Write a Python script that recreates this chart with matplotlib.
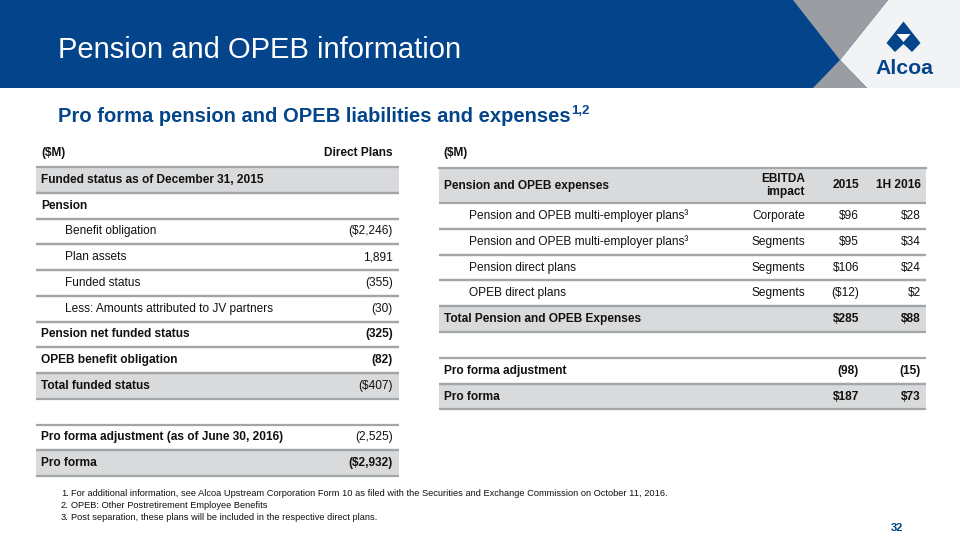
import matplotlib.pyplot as plt
from matplotlib.patches import Rectangle, Polygon

plt.rcParams['font.family'] = ['Liberation Sans', 'DejaVu Sans']

# left table: funded status
left_labels = ["Funded status as of December 31, 2015", "Pension", "Benefit obligation",
               "Plan assets", "Funded status", "Less: Amounts attributed to JV partners",
               "Pension net funded status", "OPEB benefit obligation", "Total funded status",
               "Pro forma adjustment (as of June 30, 2016)", "Pro forma"]
left_values = ["", "", "($2,246)", "1,891", "(355)", "(30)", "(325)", "(82)", "($407)",
               "(2,525)", "($2,932)"]

# right table: expenses
right_labels = ["Pension and OPEB multi-employer plans³", "Pension and OPEB multi-employer plans³",
                "Pension direct plans", "OPEB direct plans", "Total Pension and OPEB Expenses",
                "Pro forma adjustment", "Pro forma"]
right_impact = ["Corporate", "Segments", "Segments", "Segments", "", "", ""]
right_2015 = ["$96", "$95", "$106", "($12)", "$285", "(98)", "$187"]
right_1h2016 = ["$28", "$34", "$24", "$2", "$88", "(15)", "$73"]

footnotes = ["For additional information, see Alcoa Upstream Corporation Form 10 as filed with the Securities and Exchange Commission on October 11, 2016.",
             "OPEB: Other Postretirement Employee Benefits",
             "Post separation, these plans will be included in the respective direct plans."]

# row layout / styles
left_slot = [0, 1, 2, 3, 4, 5, 6, 7, 8, 10, 11]
left_indent = [0, 0, 1, 1, 1, 1, 0, 0, 0, 0, 0]
left_bold = [1, 1, 0, 0, 0, 0, 1, 1, 1, 1, 1]
left_vbold = [0, 0, 0, 0, 0, 0, 1, 1, 0, 0, 1]
left_shade = [1, 0, 0, 0, 0, 0, 0, 0, 1, 0, 1]

right_slot = [0, 1, 2, 3, 4, 6, 7]
right_indent = [1, 1, 1, 1, 0, 0, 0]
right_bold = [0, 0, 0, 0, 1, 1, 1]
right_shade = [0, 0, 0, 0, 1, 0, 1]

BLUE = '#03448a'
GREY = '#9a9ea2'
LIGHT = '#f2f3f5'
SHADE = '#d9dadc'
LINE = '#a3a6a9'
TXT = '#111111'
FS = 8.6

fig = plt.figure(figsize=(9.6, 5.4), dpi=100)
ax = fig.add_axes([0, 0, 1, 1])
ax.set_xlim(0, 960)
ax.set_ylim(540, 0)
ax.axis('off')

# header band
ax.add_patch(Rectangle((0, 0), 960, 88, color=BLUE, lw=0))
ax.add_patch(Polygon([(888, 0), (960, 0), (960, 88), (867, 88), (840, 60)], color=LIGHT, lw=0))
ax.add_patch(Polygon([(793, 0), (888, 0), (840, 60)], color=GREY, lw=0))
ax.add_patch(Polygon([(840, 60), (867, 88), (813, 88)], color=GREY, lw=0))

# logo
ax.add_patch(Polygon([(903.5, 21.5), (920.5, 43), (912, 52), (903.5, 44), (895, 52), (886.5, 43)],
                     color=BLUE, lw=0))
ax.add_patch(Polygon([(896.5, 34), (910.5, 34), (903.5, 42)], color='white', lw=0))
ax.text(904, 68, "Alcoa", color=BLUE, fontsize=15.3, fontweight='bold', ha='center', va='center')

ax.text(58, 50, "Pension and OPEB information", color='white', fontsize=21, ha='left', va='center')

sub = ax.text(58, 117, "Pro forma pension and OPEB liabilities and expenses", color=BLUE,
              fontsize=14.5, fontweight='bold', ha='left', va='center')
fig.canvas.draw()
bb = sub.get_window_extent().transformed(ax.transData.inverted())
ax.text(max(bb.x0, bb.x1) + 1, 111, "1,2", color=BLUE, fontsize=9.5, fontweight='bold',
        ha='left', va='center')

# left table
L0, L1, LH, LT = 36, 399, 25.75, 167
ax.text(41, 153, "($M)", fontsize=FS, fontweight='bold', color=TXT, va='center')
ax.text(393, 153, "Direct Plans", fontsize=FS, fontweight='bold', color=TXT, va='center', ha='right')
for i, lab in enumerate(left_labels):
    top = LT + left_slot[i] * LH
    if left_shade[i]:
        ax.add_patch(Rectangle((L0, top), L1 - L0, LH, color=SHADE, lw=0))
    for y in (top, top + LH):
        ax.plot([L0, L1], [y, y], color=LINE, lw=1.6, solid_capstyle='butt')
    cy = top + LH / 2
    ax.text(65 if left_indent[i] else 41, cy, lab, fontsize=FS, color=TXT,
            fontweight='bold' if left_bold[i] else 'normal', va='center', ha='left')
    ax.text(393, cy, left_values[i], fontsize=FS, color=TXT,
            fontweight='bold' if left_vbold[i] else 'normal', va='center', ha='right')

# right table
R0, R1, RH = 439, 926, 25.8
ax.text(443, 153, "($M)", fontsize=FS, fontweight='bold', color=TXT, va='center')
ax.add_patch(Rectangle((R0, 168), R1 - R0, 35, color=SHADE, lw=0))
ax.plot([R0, R1], [168, 168], color=LINE, lw=1.6)
ax.text(444, 185.5, "Pension and OPEB expenses", fontsize=FS, fontweight='bold', color=TXT, va='center')
ax.text(805, 185.5, "EBITDA\nimpact", fontsize=FS, fontweight='bold', color=TXT, va='center',
        ha='right', multialignment='right', linespacing=1.1)
ax.text(859, 185.5, "2015", fontsize=FS, fontweight='bold', color=TXT, va='center', ha='right')
ax.text(921, 185.5, "1H 2016", fontsize=FS, fontweight='bold', color=TXT, va='center', ha='right')
RT = 203
for i, lab in enumerate(right_labels):
    top = RT + right_slot[i] * RH
    if right_shade[i]:
        ax.add_patch(Rectangle((R0, top), R1 - R0, RH, color=SHADE, lw=0))
    for y in (top, top + RH):
        ax.plot([R0, R1], [y, y], color=LINE, lw=1.6, solid_capstyle='butt')
    cy = top + RH / 2
    w = 'bold' if right_bold[i] else 'normal'
    ax.text(469 if right_indent[i] else 444, cy, lab, fontsize=FS, color=TXT, fontweight=w, va='center')
    ax.text(805, cy, right_impact[i], fontsize=FS, color=TXT, fontweight=w, va='center', ha='right')
    ax.text(859, cy, right_2015[i], fontsize=FS, color=TXT, fontweight=w, va='center', ha='right')
    ax.text(921, cy, right_1h2016[i], fontsize=FS, color=TXT, fontweight=w, va='center', ha='right')

# footnotes
for k, note in enumerate(footnotes):
    y = 493 + k * 12.5
    ax.text(61, y, f"{k + 1}.", fontsize=6.7, color=TXT, va='center', ha='left')
    ax.text(71, y, note, fontsize=6.7, color=TXT, va='center', ha='left')

ax.text(897, 528, "32", fontsize=8, fontweight='bold', color=BLUE, va='center', ha='center')

fig.savefig('out.png', dpi=100)
